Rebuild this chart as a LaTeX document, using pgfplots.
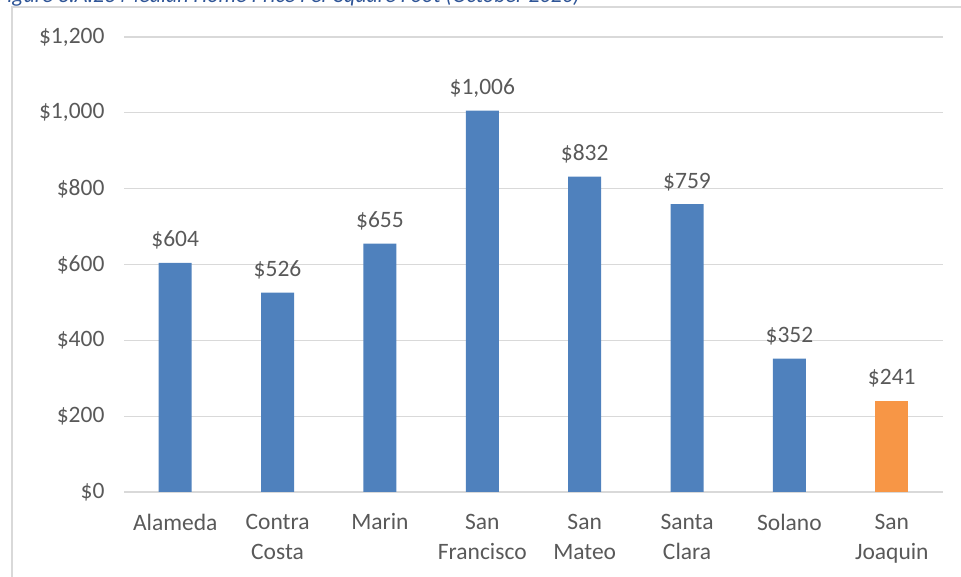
\documentclass[border=0pt]{standalone}
\usepackage{pgfplots}
\pgfplotsset{compat=1.18}
\usepackage{fontspec}
\setmainfont{Carlito}
\definecolor{barblue}{HTML}{4F81BD}
\definecolor{barorange}{HTML}{F79646}
\definecolor{gridgray}{HTML}{D9D9D9}
\definecolor{txtgray}{HTML}{595959}
\definecolor{titleblue}{HTML}{2F5597}
\begin{document}
\begin{tikzpicture}[x=1pt,y=1pt]
\useasboundingbox (0,0) rectangle (961,577);
\draw[gridgray, line width=2pt] (12,-10) -- (12,570) -- (990,570);
\node[anchor=base west, font=\fontsize{22}{26}\selectfont\itshape, text=titleblue, inner sep=0] at (-3,574) {Figure 3.A.23 Median Home Price Per Square Foot (October 2020)};
\begin{axis}[
  at={(124pt,85pt)}, anchor=south west,
  scale only axis, width=819pt, height=455pt,
  ymin=0, ymax=1200, xmin=-0.5, xmax=7.5,
  ytick={0,200,...,1200},
  ymajorgrids, grid style={gridgray, line width=1.3pt},
  axis line style={draw=none}, tick style={draw=none},
  xtick={0,...,7},
  xticklabels={Alameda,Contra\\Costa,Marin,San\\Francisco,San\\Mateo,Santa\\Clara,Solano,San\\Joaquin},
  x tick label style={align=center, text=txtgray, font=\fontsize{23.5}{30}\selectfont, anchor=north, yshift=-14pt},
  y tick label style={text=txtgray, font=\fontsize{23.5}{28}\selectfont, anchor=east, xshift=-16pt},
  /pgf/number format/assume math mode=true,
  /pgf/number format/1000 sep={,},
  yticklabel={\$\pgfmathprintnumber{\tick}},
  ybar, bar width=33pt,
  nodes near coords={\$\pgfmathprintnumber{\pgfplotspointmeta}},
  every node near coord/.append style={text=txtgray, font=\fontsize{23.5}{28}\selectfont, yshift=10pt},
  clip=false,
]
\addplot[fill=barblue, draw=none, bar shift=0pt] coordinates {(0,604) (1,526) (2,655) (3,1006) (4,832) (5,759) (6,352)};
\addplot[fill=barorange, draw=none, bar shift=0pt] coordinates {(7,241)};
\end{axis}
\end{tikzpicture}
\end{document}
